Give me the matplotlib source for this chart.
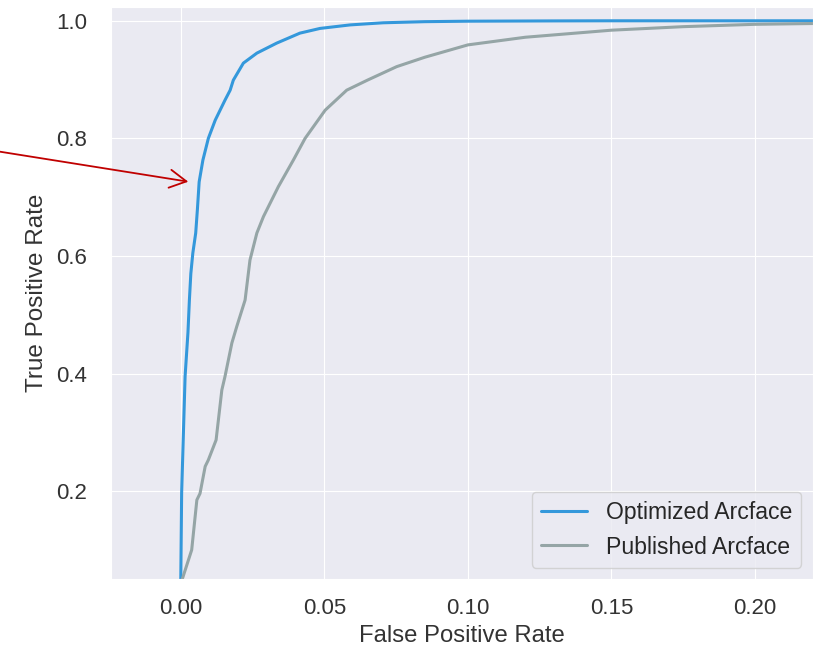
import matplotlib
matplotlib.use("Agg")
import matplotlib.pyplot as plt
import seaborn as sns
from matplotlib.patches import FancyArrowPatch

# ROC data
fpr_opt = [0.0, 0.0003, 0.0015, 0.0025, 0.0030, 0.0035, 0.0042, 0.0052, 0.0058, 0.0064,
           0.0077, 0.0096, 0.0120, 0.0154, 0.0172, 0.0183, 0.0218, 0.0265, 0.0334,
           0.0415, 0.0485, 0.0590, 0.0705, 0.0850, 0.1000, 0.1300, 0.1500, 0.2300]
tpr_opt = [0.05, 0.197, 0.395, 0.470, 0.525, 0.570, 0.605, 0.639, 0.680, 0.726,
           0.763, 0.800, 0.831, 0.865, 0.882, 0.899, 0.928, 0.945, 0.962,
           0.979, 0.987, 0.993, 0.9966, 0.9985, 0.9993, 0.9998, 1.0, 1.0]

fpr_pub = [0.0005, 0.0038, 0.0056, 0.0067, 0.0085, 0.0096, 0.0123, 0.0143, 0.0154,
           0.0178, 0.0195, 0.0224, 0.0241, 0.0265, 0.0288, 0.0340, 0.0392, 0.0433,
           0.0503, 0.0578, 0.0650, 0.0752, 0.0850, 0.1000, 0.1200, 0.1500, 0.1750,
           0.2000, 0.2300]
tpr_pub = [0.05, 0.100, 0.185, 0.196, 0.242, 0.253, 0.287, 0.372, 0.395,
           0.452, 0.480, 0.525, 0.593, 0.639, 0.667, 0.718, 0.763, 0.800,
           0.848, 0.882, 0.899, 0.922, 0.938, 0.959, 0.972, 0.984, 0.990,
           0.994, 0.996]

labels = ["Optimized Arcface", "Published Arcface"]
colors = ["#3498db", "#95a5a6"]

sns.set_style("darkgrid")
plt.rcParams['font.family'] = ['Liberation Sans', 'DejaVu Sans']

fig = plt.figure(figsize=(8.13, 6.48), dpi=100)
ax = fig.add_axes([0.1362, 0.106, 0.8634, 0.8837])

ax.plot(fpr_opt, tpr_opt, color=colors[0], lw=2.2, label=labels[0])
ax.plot(fpr_pub, tpr_pub, color=colors[1], lw=2.2, label=labels[1])

ax.set_xlim(-0.0244, 0.2201)
ax.set_ylim(0.05, 1.024)
ax.set_xticks([0.0, 0.05, 0.10, 0.15, 0.20])
ax.set_yticks([0.2, 0.4, 0.6, 0.8, 1.0])
ax.set_xticklabels(["0.00", "0.05", "0.10", "0.15", "0.20"])
ax.set_yticklabels(["0.2", "0.4", "0.6", "0.8", "1.0"])
ax.tick_params(axis="x", labelsize=16, colors="#333333", length=0, pad=13.7)
ax.tick_params(axis="y", labelsize=16, colors="#333333", length=0, pad=16.8)
ax.set_xlabel("False Positive Rate", fontsize=17.2, color="#333333")
ax.set_ylabel("True Positive Rate", fontsize=17.5, color="#333333")
ax.xaxis.set_label_coords(0.5, -0.0805)
ax.yaxis.set_label_coords(-0.0893, 0.5)
ax.legend(loc="lower right", fontsize=16.6, frameon=True)

arrow = FancyArrowPatch((0, 648 - 151.7), (188.3, 648 - 181.7),
                        arrowstyle="->,head_length=1.2,head_width=0.65",
                        mutation_scale=10, color="#c00000", lw=1.3,
                        transform=None, shrinkA=0, shrinkB=0)
fig.add_artist(arrow)

fig.savefig("out.png", dpi=100)
